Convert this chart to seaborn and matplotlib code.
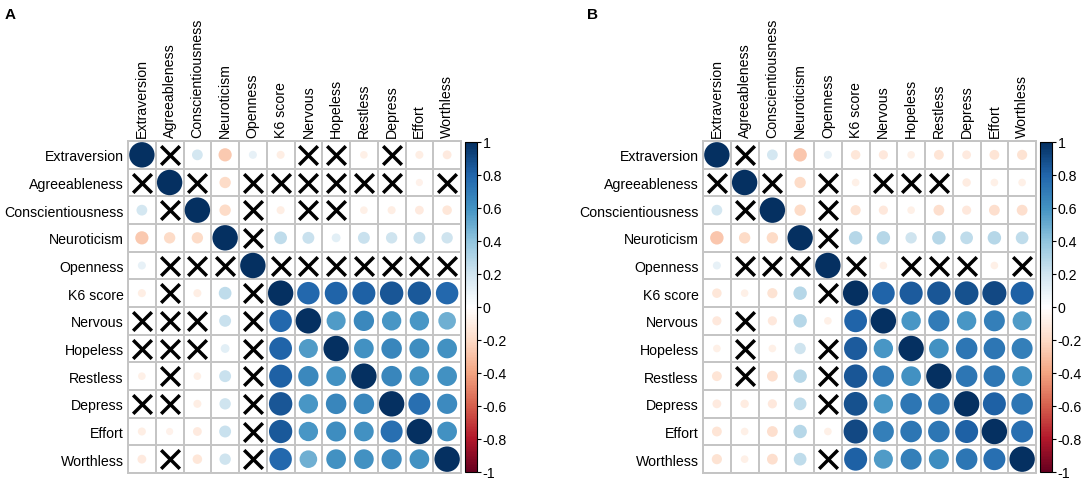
import numpy as np
import pandas as pd
import seaborn as sns
import matplotlib.pyplot as plt
from matplotlib.colors import LinearSegmentedColormap, Normalize
from matplotlib.cm import ScalarMappable

labels = ["Extraversion", "Agreeableness", "Conscientiousness", "Neuroticism",
          "Openness", "K6 score", "Nervous", "Hopeless", "Restless",
          "Depress", "Effort", "Worthless"]

# lower triangle of each correlation matrix (row i, columns 0..i-1)
# None = not significant, drawn as a cross
lower_a = [
    [None],
    [0.18, None],
    [-0.27, -0.2, -0.2],
    [0.1, None, None, None],
    [-0.1, None, -0.1, 0.25, None],
    [None, None, None, 0.22, None, 0.78],
    [None, None, None, 0.12, None, 0.8, 0.56],
    [-0.09, None, -0.09, 0.22, None, 0.82, 0.64, 0.6],
    [None, None, -0.1, 0.2, None, 0.85, 0.58, 0.65, 0.65],
    [-0.1, -0.08, -0.12, 0.22, None, 0.84, 0.58, 0.62, 0.6, 0.75],
    [-0.12, None, -0.14, 0.2, None, 0.78, 0.48, 0.6, 0.6, 0.63, 0.6],
]

lower_b = [
    [None],
    [0.18, None],
    [-0.28, -0.2, -0.2],
    [0.1, None, None, None],
    [-0.14, -0.09, -0.16, 0.28, None],
    [-0.13, None, -0.13, 0.28, -0.09, 0.8],
    [-0.09, None, -0.09, 0.2, None, 0.83, 0.58],
    [-0.15, None, -0.18, 0.28, None, 0.85, 0.7, 0.6],
    [-0.12, -0.11, -0.13, 0.25, None, 0.87, 0.58, 0.72, 0.72],
    [-0.15, -0.09, -0.18, 0.28, -0.09, 0.9, 0.68, 0.72, 0.72, 0.82],
    [-0.16, -0.09, -0.18, 0.25, None, 0.82, 0.56, 0.68, 0.62, 0.72, 0.75],
]

cbar_ticks = [1, 0.8, 0.6, 0.4, 0.2, 0, -0.2, -0.4, -0.6, -0.8, -1]

# corrplot's RdBu ramp
col2 = ["#67001F", "#B2182B", "#D6604D", "#F4A582", "#FDDBC7", "#FFFFFF",
        "#D1E5F0", "#92C5DE", "#4393C3", "#2166AC", "#053061"]
cmap = LinearSegmentedColormap.from_list("col2", col2, N=200)

plt.rcParams['font.family'] = ['Liberation Sans', 'DejaVu Sans']
fs = 10.2


def to_long(lower):
    n = len(labels)
    rows = []
    for i in range(n):
        rows.append((i, i, 1.0))
    for i, vals in enumerate(lower, start=1):
        for j, v in enumerate(vals):
            r = np.nan if v is None else v
            rows.append((i, j, r))
            rows.append((j, i, r))
    df = pd.DataFrame(rows, columns=["row", "col", "r"])
    df["absr"] = df["r"].abs()
    return df


def draw(ax, cax, lower):
    df = to_long(lower)
    sig = df[df["r"].notna()]
    ns = df[df["r"].isna()]
    sns.scatterplot(data=sig, x="col", y="row", hue="r", palette=cmap,
                    hue_norm=(-1, 1), size="absr", sizes=(0, 335),
                    size_norm=(0, 1), linewidth=0, legend=False, ax=ax,
                    zorder=3)
    sns.scatterplot(data=ns, x="col", y="row", marker="x", color="black",
                    s=180, linewidth=2.5, legend=False, ax=ax, zorder=3)

    ax.set_xlim(-0.5, 11.5)
    ax.set_ylim(11.5, -0.5)
    ax.set_xticks(range(12))
    ax.set_xticklabels(labels, rotation=90, fontsize=fs)
    ax.set_yticks(range(12))
    ax.set_yticklabels(labels, fontsize=fs)
    ax.xaxis.tick_top()
    ax.tick_params(length=0, pad=3)
    ax.set_xticks(np.arange(-0.5, 12, 1), minor=True)
    ax.set_yticks(np.arange(-0.5, 12, 1), minor=True)
    ax.tick_params(which="minor", length=0)
    ax.grid(which="minor", color="#c4c4c4", linewidth=1.4)
    ax.grid(which="major", visible=False)
    ax.set_axisbelow(True)
    for sp in ax.spines.values():
        sp.set_color("#c4c4c4")
        sp.set_linewidth(1.4)
    ax.set_xlabel("")
    ax.set_ylabel("")

    sm = ScalarMappable(norm=Normalize(-1, 1), cmap=cmap)
    cb = plt.colorbar(sm, cax=cax)
    cb.set_ticks(cbar_ticks)
    cb.set_ticklabels([f"{t:g}" for t in cbar_ticks])
    cb.ax.tick_params(labelsize=fs, length=3, width=0.8, pad=1)
    cb.outline.set_linewidth(0.8)


fig = plt.figure(figsize=(10.84, 4.85), dpi=100)

W, H = 1084, 485
ax_a = fig.add_axes([128 / W, (H - 474) / H, 333 / W, 332 / H])
cax_a = fig.add_axes([465 / W, (H - 473) / H, 12 / W, 330 / H])
ax_b = fig.add_axes([703 / W, (H - 474) / H, 333 / W, 332 / H])
cax_b = fig.add_axes([1040 / W, (H - 473) / H, 12 / W, 330 / H])

draw(ax_a, cax_a, lower_a)
draw(ax_b, cax_b, lower_b)

fig.text(5 / W, 1 - 15 / H, "A", fontsize=11, fontweight="bold", va="center")
fig.text(587 / W, 1 - 15 / H, "B", fontsize=11, fontweight="bold", va="center")

fig.savefig("out.png", dpi=100)
